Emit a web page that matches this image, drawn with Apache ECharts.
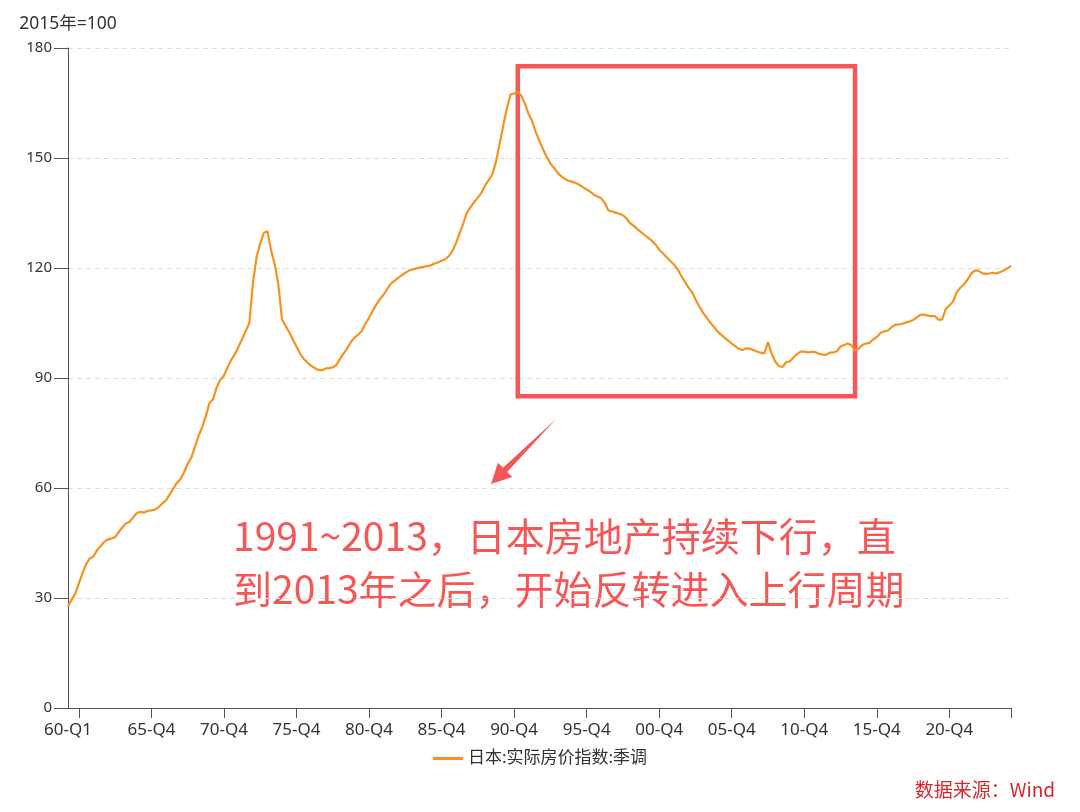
<!DOCTYPE html>
<html><head><meta charset="utf-8">
<script src="https://cdn.jsdelivr.net/npm/echarts@6/dist/echarts.min.js"></script>
<style>html,body{margin:0;padding:0;background:#fff}#c{width:1080px;height:812px}</style>
</head><body><div id="c"></div>
<script>
// Quarterly categories 1960-Q1 .. 2025-Q1
const startYear = 1960, endYear = 2025, endQuarter = 1;
const categories = [];
for (let y = startYear; y <= endYear; y++) {
  for (let q = 1; q <= 4; q++) {
    if (y === endYear && q > endQuarter) break;
    categories.push(String(y % 100).padStart(2, '0') + '-Q' + q);
  }
}
// 日本:实际房价指数:季调 (2015年=100)
const values1960s = [27.8,29.5,31.2,34.0,36.8,39.2,40.8,41.3,43.0,44.2,45.3,46.0,46.2,46.6,48.0,49.3,50.3,50.8,52.0,53.2,
  53.5,53.3,53.8,53.9,54.1,54.8,55.8,56.6,58.2,59.8,61.4,62.4,64.3,66.6,68.3,71.2,74.2,76.6,79.6,83.2];
const values1970s = [84.2,87.5,89.5,90.6,92.9,94.9,96.5,98.5,100.6,102.8,105.0,116.0,123.0,126.7,129.6,130.0,124.8,121.0,115.5,106.0,
  104.2,102.5,100.5,98.5,96.6,95.2,94.2,93.4,92.7,92.2,92.1,92.6,92.7,92.9,93.6,95.2,96.7,98.1,99.8,101.0];
const values1980s = [101.8,102.8,104.8,106.4,108.3,110.0,111.5,112.7,114.2,115.7,116.5,117.3,118.0,118.7,119.3,119.6,119.9,120.1,120.3,120.5,
  120.7,121.2,121.5,122.0,122.4,123.2,124.7,126.8,129.6,132.2,135.2,136.6,138.0,139.2,140.5,142.5,144.0,145.5,149.0,153.8];
const values1990s = [158.8,163.5,167.3,167.6,168.1,167.0,164.8,162.0,160.0,157.0,154.6,152.3,150.3,148.5,147.3,146.0,145.0,144.3,143.8,143.5,
  143.2,142.7,142.0,141.4,140.8,140.0,139.5,139.0,137.8,135.7,135.4,135.1,134.8,134.4,133.5,132.2,131.5,130.6,129.8,129.0];
const values2000s = [128.2,127.4,126.4,125.0,124.0,123.0,122.0,121.0,119.8,118.0,116.4,114.8,113.5,111.5,109.6,107.9,106.6,105.2,104.0,102.8,
  101.9,101.0,100.2,99.4,98.7,97.9,97.6,98.1,98.0,97.6,97.2,96.9,96.7,99.8,96.6,94.5,93.2,93.0,94.3,94.5];
const values2010s = [95.6,96.5,97.2,97.2,97.0,97.1,97.1,96.6,96.4,96.3,96.9,97.0,97.3,98.6,99.0,99.4,98.9,97.5,98.0,99.0,
  99.4,99.6,100.5,101.2,102.3,102.7,102.9,103.8,104.5,104.6,104.8,105.1,105.4,105.8,106.5,107.2,107.3,107.0,106.9,106.9];
const values2020s = [105.9,105.9,108.8,109.8,110.8,113.3,114.6,115.5,116.8,118.4,119.3,119.3,118.6,118.4,118.5,118.7,118.5,118.9,119.3,119.9,
  120.6];
const seriesValues = [].concat(values1960s, values1970s, values1980s, values1990s, values2000s, values2010s, values2020s);
const seriesName = '日本:实际房价指数:季调';
const yTicks = [0, 30, 60, 90, 120, 150, 180];
const boxFrom = ['91-Q1', 175], boxTo = ['14-Q2', 85];
const noteLines = ['1991~2013，日本房地产持续下行，直', '到2013年之后，开始反转进入上行周期'];

const RED = '#f65656';
const FONT = '"Noto Sans", "Noto Sans CJK SC", sans-serif';
const chart = echarts.init(document.getElementById('c'), null, {renderer: 'canvas'});
const lastIdx = categories.length - 1;
chart.setOption({
  animation: false,
  backgroundColor: '#fff',
  grid: {left: 68, right: 69, top: 48, bottom: 104, containLabel: false},
  legend: {
    bottom: 40, left: 'center', itemWidth: 30, itemHeight: 3, icon: 'rect', itemGap: 10,
    textStyle: {fontSize: 17, color: '#333', fontFamily: FONT},
    data: [seriesName]
  },
  xAxis: {
    type: 'category', data: categories, boundaryGap: false,
    axisLine: {lineStyle: {color: '#555', width: 1}},
    axisTick: {show: true, length: 10, lineStyle: {color: '#555'},
      interval: (i) => i % 20 === 3 || i === lastIdx},
    axisLabel: {interval: (i) => i === 0 || (i >= 23 && i % 20 === 3), color: '#333', fontSize: 17, margin: 14,
      fontFamily: FONT},
    splitLine: {show: false}
  },
  yAxis: {
    type: 'value', min: yTicks[0], max: yTicks[yTicks.length - 1], interval: 30,
    name: '2015年=100', nameLocation: 'end', nameGap: 15,
    nameTextStyle: {color: '#333', fontSize: 17.5, fontFamily: FONT},
    axisLine: {show: true, lineStyle: {color: '#555'}},
    axisTick: {show: true, length: 14, lineStyle: {color: '#555'}},
    axisLabel: {color: '#333', fontSize: 15, margin: 16, fontFamily: FONT},
    splitLine: {show: true, lineStyle: {type: [5, 4], color: '#ddd'}}
  },
  series: [{
    name: seriesName, type: 'line', data: seriesValues, showSymbol: false, symbol: 'none',
    lineStyle: {color: '#f7921e', width: 2.2}, itemStyle: {color: '#f7921e'},
    markArea: {
      silent: true,
      itemStyle: {color: 'rgba(0,0,0,0)', borderColor: RED, borderWidth: 4.5},
      data: [[{xAxis: boxFrom[0], yAxis: boxFrom[1]}, {xAxis: boxTo[0], yAxis: boxTo[1]}]]
    }
  }],
  graphic: [
    {type: 'polygon', shape: {points: [[556,419],[507.2,472.0],[512.2,477.0],[491,484],[498.0,462.8],[503.0,467.8]]},
      style: {fill: RED}},
    {type: 'text', left: 233, top: 517, style: {text: noteLines[0], fill: RED, font: '39px "Noto Sans CJK SC", sans-serif'}},
    {type: 'text', left: 233, top: 570, style: {text: noteLines[1], fill: RED, font: '39px "Noto Sans CJK SC", sans-serif'}},
    {type: 'text', right: 25, top: 780, style: {text: '数据来源：Wind', fill: '#d9262c', font: '19px "Noto Sans CJK SC", sans-serif'}}
  ]
});
</script></body></html>
